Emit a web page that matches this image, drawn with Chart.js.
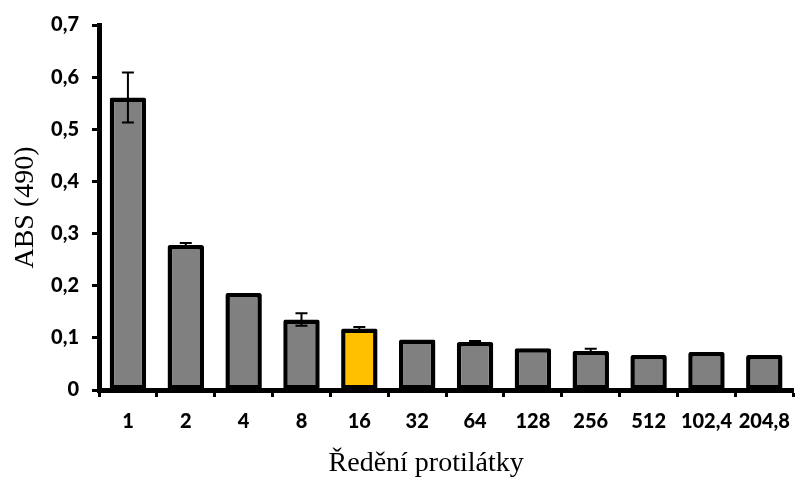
<!DOCTYPE html>
<html><head><meta charset="utf-8">
<script src="https://cdn.jsdelivr.net/npm/chart.js@4"></script>
<style>html,body{margin:0;padding:0;background:#fff}#wrap{width:803px;height:477px}</style>
</head><body><div id="wrap"><canvas id="c" width="803" height="477"></canvas></div>
<script>
const categories = ['1','2','4','8','16','32','64','128','256','512','102,4','204,8'];
const values = [0.561, 0.278, 0.186, 0.135, 0.118, 0.097, 0.092, 0.080, 0.075, 0.067, 0.073, 0.067];
const errors = [0.048, 0.004, 0.000, 0.012, 0.003, 0.000, 0.002, 0.000, 0.004, 0.000, 0.000, 0.000];
const barColors = ['#808080','#808080','#808080','#808080','#FFC000','#808080','#808080','#808080','#808080','#808080','#808080','#808080'];
const yTicks = [0, 0.1, 0.2, 0.3, 0.4, 0.5, 0.6, 0.7];
const xTitle = 'Ředění protilátky';
const yTitle = 'ABS (490)';

const errorBars = {
  id: 'errorBars',
  afterDatasetsDraw(chart) {
    const ctx = chart.ctx, y = chart.scales.y;
    const meta = chart.getDatasetMeta(0);
    ctx.save();
    ctx.strokeStyle = '#000';
    ctx.lineWidth = 2;
    meta.data.forEach((bar, i) => {
      const e = errors[i];
      if (!e) return;
      const top = y.getPixelForValue(values[i] + e);
      const bot = y.getPixelForValue(values[i] - e);
      const x = bar.x, cw = 6;
      ctx.beginPath();
      ctx.moveTo(x, top); ctx.lineTo(x, bot);
      ctx.moveTo(x - cw, top); ctx.lineTo(x + cw, top);
      ctx.moveTo(x - cw, bot); ctx.lineTo(x + cw, bot);
      ctx.stroke();
    });
    ctx.restore();
  }
};

const xTitlePlugin = {
  id: 'xTitlePlugin',
  afterDraw(chart) {
    const ctx = chart.ctx, a = chart.chartArea;
    ctx.save();
    ctx.fillStyle = '#000';
    ctx.font = '28px "Liberation Serif"';
    ctx.textAlign = 'center';
    ctx.textBaseline = 'alphabetic';
    ctx.fillText(xTitle, (a.left + a.right) / 2 - 20, chart.height - 6);
    ctx.restore();
  }
};

new Chart(document.getElementById('c'), {
  type: 'bar',
  data: {
    labels: categories,
    datasets: [{
      data: values,
      backgroundColor: barColors,
      borderColor: '#000',
      borderWidth: 4.5,
      borderSkipped: false,
      borderRadius: 2,
      categoryPercentage: 1.0,
      barPercentage: 0.63
    }]
  },
  options: {
    responsive: false,
    animation: false,
    layout: { padding: { top: 25, right: 3, left: 0, bottom: 0 } },
    plugins: { legend: { display: false }, tooltip: { enabled: false } },
    scales: {
      x: {
        afterFit(axis) { axis.height = 87; },
        border: { display: true, color: '#000', width: 5 },
        grid: { display: true, drawOnChartArea: false, drawTicks: true, tickLength: 7, tickWidth: 3, tickColor: '#000', offset: true },
        ticks: { color: '#000', font: { family: 'Lato', weight: '900', size: 20 }, padding: 13, maxRotation: 0, autoSkip: false },
        title: { display: false }
      },
      y: {
        min: 0, max: 0.7,
        afterFit(axis) { axis.width = 99; },
        afterBuildTicks(axis) { axis.ticks = yTicks.map(v => ({ value: v })); },
        border: { display: true, color: '#000', width: 5 },
        grid: { display: true, drawOnChartArea: false, drawTicks: true, tickLength: 7, tickWidth: 3, tickColor: '#000' },
        ticks: { color: '#000', font: { family: 'Lato', weight: '900', size: 20 }, padding: 13,
          callback: v => v === 0 ? '0' : Number(v).toFixed(1).replace('.', ',') },
        title: { display: true, text: yTitle, color: '#000', font: { family: 'Liberation Serif', size: 28 }, padding: { top: 9, bottom: 0 } }
      }
    }
  },
  plugins: [errorBars, xTitlePlugin]
});
</script></body></html>
